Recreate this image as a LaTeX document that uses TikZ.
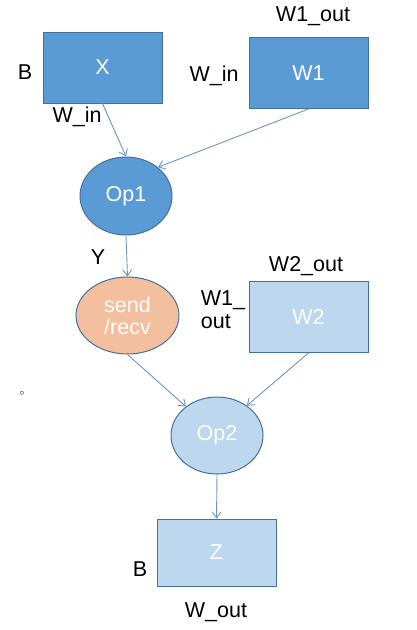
\documentclass[tikz,border=0pt]{standalone}
\usepackage{fontspec}
\setmainfont{Liberation Sans}
\usetikzlibrary{shapes.geometric,arrows.meta}
\definecolor{darkblue}{HTML}{5B9BD5}
\definecolor{lightblue}{HTML}{BDD7EE}
\definecolor{peach}{HTML}{F4BF9F}
\definecolor{edge}{HTML}{41719C}
\definecolor{wire}{HTML}{6E95C0}
\tikzstyle{block} = [rectangle, draw=edge, line width=1pt, text=white, minimum width=119pt, minimum height=71pt]
\tikzstyle{op} = [ellipse, draw=edge, line width=1pt, text=white, align=center, minimum width=92pt, minimum height=78pt]
\tikzstyle{lbl} = [text=black, align=left]
\tikzstyle{wire} = [draw=wire, line width=0.9pt, -{Straight Barb[length=6pt,width=9pt]}]

\begin{document}
\begin{tikzpicture}[x=1pt, y=-1pt, font=\fontsize{21.5}{24}\selectfont]
\useasboundingbox (0,0) rectangle (417,630);

\node[block, fill=darkblue] (x) at (102.5, 67.5) {X};
\node[block, fill=darkblue] (w1) at (308.5, 73) {W1};
\node[op, fill=darkblue] (op1) at (126, 196) {Op1};
\node[op, fill=peach, minimum width=103pt, minimum height=77pt] (sr) at (127.5, 315.5) {send\\[-2pt]/recv};
\node[block, fill=lightblue] (w2) at (308.5, 317) {W2};
\node[op, fill=lightblue, minimum height=77pt] (op2) at (217, 435.5) {Op2};
\node[block, fill=lightblue, minimum height=67pt] (z) at (216.5, 552.5) {Z};

\node[lbl] (bx) at (25, 72) {B};
\node[lbl] (winx) at (77, 117) {W\_in};
\node[lbl] (winw) at (214, 76) {W\_in};
\node[lbl] (w1out) at (313, 16) {W1\_out};
\node[lbl] (y) at (98, 257) {Y};
\node[lbl] (w2out) at (306, 266) {W2\_out};
\node[lbl, inner sep=0pt] (w1o) at (223, 310) {W1\_\\[-1pt]out};
\node[lbl, font=\small] (dot) at (22, 393) {$\circ$};
\node[lbl] (bz) at (140, 569) {B};
\node[lbl] (wout) at (216, 612) {W\_out};

\draw [wire] (x.south) -- (op1.north);
\draw [wire] (w1.south) -- (op1.42);
\draw [wire] (op1.south) -- (sr.north);
\draw [wire] (sr.south) -- (op2.137);
\draw [wire] (w2.south) -- (op2.45);
\draw [wire] (op2.south) -- (z.north);

\end{tikzpicture}
\end{document}
